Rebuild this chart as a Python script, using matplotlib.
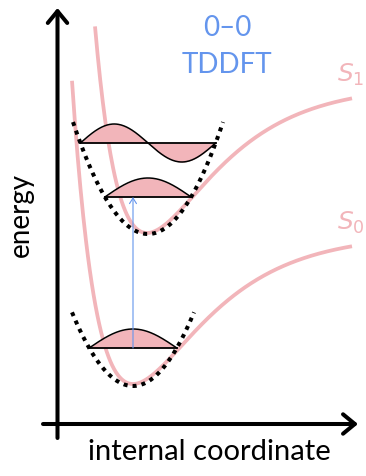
import numpy as np
import matplotlib
matplotlib.use("Agg")
import matplotlib.pyplot as plt

plt.rcParams['font.family'] = ['Lato', 'DejaVu Sans']
plt.rcParams['mathtext.fontset'] = 'dejavusans'

PINK = '#f2b5ba'
BLUE = '#6495ed'

# potential curves (Morse): minimum position, minimum energy, well depth, steepness, x range
states = ['S0', 'S1']
morse_x0 = [133, 147]
morse_emin = [92, 243]
morse_depth = [150, 148]
morse_a = [0.0145, 0.015]
curve_start = [72, 95]
curve_end = [352, 352]

# harmonic approximations (dotted)
harm_x0 = [133, 148]
harm_e0 = [90, 242]
harm_k = [0.0198, 0.0199]
harm_halfwidth = [61, 75]

# vibrational levels: state index, quantum number, energy
level_state = [0, 1, 1]
level_v = [0, 0, 1]
level_energy = [128, 279, 333]
wf_amp = 19

# vertical 0-0 transition
trans_x = 133
trans_from = 128
trans_to = 279


def morse(i, x):
    return morse_emin[i] + morse_depth[i] * (1 - np.exp(-morse_a[i] * (x - morse_x0[i]))) ** 2


def harmonic(i, x):
    return harm_e0[i] + harm_k[i] * (x - harm_x0[i]) ** 2


fig = plt.figure(figsize=(3.66, 4.76), dpi=100)
ax = fig.add_axes([0, 0, 1, 1])
ax.set_xlim(0, 366)
ax.set_ylim(0, 476)
ax.axis('off')

# axes with arrows
ax.annotate('', xy=(57.5, 468), xytext=(57.5, 38),
            arrowprops=dict(arrowstyle='->,head_length=0.85,head_width=0.7',
                            lw=2.9, color='black', shrinkA=0, shrinkB=0))
ax.annotate('', xy=(358, 52), xytext=(43, 52),
            arrowprops=dict(arrowstyle='->,head_length=0.85,head_width=0.7',
                            lw=2.9, color='black', shrinkA=0, shrinkB=0))

for i in range(len(states)):
    x = np.linspace(curve_start[i], curve_end[i], 300)
    ax.plot(x, morse(i, x), color=PINK, lw=2.7, solid_capstyle='butt', zorder=2)

    xh = np.linspace(harm_x0[i] - harm_halfwidth[i], harm_x0[i] + harm_halfwidth[i], 200)
    ax.plot(xh, harmonic(i, xh), color='black', lw=2.9,
            linestyle=(0, (1, 1.25)), dash_capstyle='butt', zorder=4)

for s, v, e in zip(level_state, level_v, level_energy):
    half = np.sqrt((e - harm_e0[s]) / harm_k[s])
    xl = np.linspace(harm_x0[s] - half, harm_x0[s] + half, 200)
    t = (xl - xl[0]) / (xl[-1] - xl[0])
    psi = e + wf_amp * np.sin(np.pi * (v + 1) * t)
    ax.fill_between(xl, e, psi, color=PINK, lw=0, zorder=3)
    ax.plot(xl, psi, color='black', lw=1.1, zorder=5)
    ax.plot([xl[0], xl[-1]], [e, e], color='black', lw=1.3, zorder=5)

ax.annotate('', xy=(trans_x, trans_to), xytext=(trans_x, trans_from),
            arrowprops=dict(arrowstyle='->,head_length=0.4,head_width=0.25',
                            lw=0.8, color=BLUE, shrinkA=0, shrinkB=0), zorder=6)

ax.text(227, 448, '0–0', color=BLUE, fontsize=20, ha='center', va='center')
ax.text(227, 411, 'TDDFT', color=BLUE, fontsize=20, ha='center', va='center')

ax.text(351, 401, r'$S_1$', color=PINK, fontsize=18, ha='center', va='center')
ax.text(351, 253, r'$S_0$', color=PINK, fontsize=18, ha='center', va='center')

ax.text(21, 261, 'energy', fontsize=20, rotation=90, ha='center', va='center')
ax.text(209, 24, 'internal coordinate', fontsize=21, ha='center', va='center')

fig.savefig('out.png', dpi=100)
